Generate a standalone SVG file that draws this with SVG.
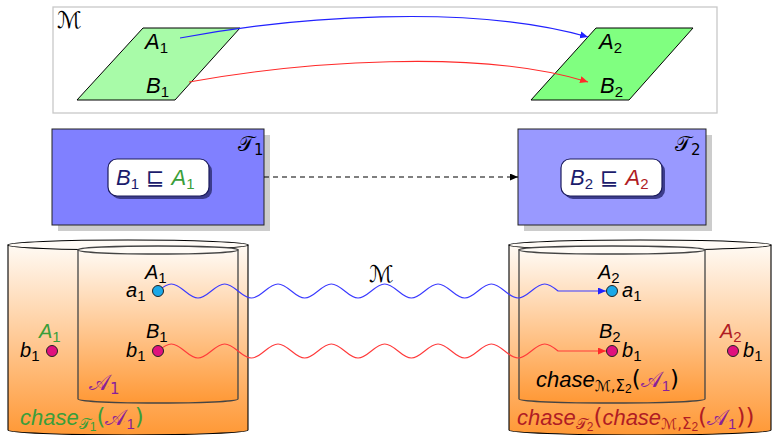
<svg xmlns="http://www.w3.org/2000/svg" width="773" height="435" viewBox="0 0 773 435">
<style>
text{font-family:"Liberation Sans","DejaVu Sans",sans-serif;font-style:italic;fill:#000}
.s{font-style:normal;font-size:15px}
.ss{font-style:normal;font-size:12px}
.sm{font-family:"DejaVu Sans","Noto Sans",sans-serif;font-style:normal;font-size:15px}
.m{font-family:"DejaVu Sans","Noto Sans",sans-serif;font-style:normal}
.lbl{font-size:20px}
.big{font-size:22px}
.ch{font-size:22px}
.green{fill:#3a9e3a}
.red{fill:#b01c24}
.navy{fill:#1c1c6c}
.purple{fill:#8a1f9a}
.cyl{stroke:#000;stroke-width:1.1}
.icyl{stroke:#444;stroke-width:1.3}
.top{fill:#fffbf6}
.dotc{fill:#1aa8e8;stroke:#222;stroke-width:1}
.dotm{fill:#e0107e;stroke:#222;stroke-width:1}
</style>
<defs>
<linearGradient id="og" x1="0" y1="0" x2="0" y2="1">
<stop offset="0" stop-color="#fffaf4"/>
<stop offset="1" stop-color="#ff9835"/>
</linearGradient>
<marker id="ab" markerUnits="userSpaceOnUse" markerWidth="9" markerHeight="8" refX="8" refY="3.5" orient="auto"><path d="M0,0 L8,3.5 L0,7 z" fill="#2222ff"/></marker>
<marker id="ar" markerUnits="userSpaceOnUse" markerWidth="9" markerHeight="8" refX="8" refY="3.5" orient="auto"><path d="M0,0 L8,3.5 L0,7 z" fill="#ff2a2a"/></marker>
<marker id="ak" markerUnits="userSpaceOnUse" markerWidth="9" markerHeight="8" refX="8" refY="3.5" orient="auto"><path d="M0,0 L8,3.5 L0,7 z" fill="#000"/></marker>
</defs>

<g id="mapping-box">
<rect x="53" y="7" width="664" height="106" fill="#fff" stroke="#c8c8c8" stroke-width="1.3"/>
<text x="57" y="28" class="m" style="font-size:23px">ℳ</text>
</g>

<g id="schema1">
<polygon points="143,28 240,28 175,100 77,100" fill="#a8fba8" stroke="#000" stroke-width="1"/>
<text x="145" y="49" class="big">A<tspan class="s" dy="4">1</tspan></text>
<text x="146" y="93" class="big">B<tspan class="s" dy="4">1</tspan></text>
</g>

<g id="schema2">
<polygon points="596,28 693,28 629,100 531,100" fill="#80ff80" stroke="#000" stroke-width="1"/>
<text x="599" y="49" class="big">A<tspan class="s" dy="4">2</tspan></text>
<text x="600" y="93" class="big">B<tspan class="s" dy="4">2</tspan></text>
</g>

<g id="T1">
<rect x="58" y="135" width="212" height="96" fill="#cccccc"/>
<rect x="52" y="129" width="212" height="96" fill="#8080ff" stroke="#222" stroke-width="1"/>
<text x="238" y="151" class="m" style="font-size:21px">𝒯<tspan class="s" dy="4">1</tspan></text>
<rect x="111" y="162" width="101" height="37" rx="9" fill="#3c3c8c"/>
<rect x="108" y="159" width="101" height="37" rx="9" fill="#fff" stroke="#1c1c5c" stroke-width="1.2"/>
<text x="116" y="185" class="big"><tspan class="navy">B</tspan><tspan class="s navy" dy="4">1</tspan><tspan class="m navy" dy="-4"> ⊑ </tspan><tspan class="green">A</tspan><tspan class="s green" dy="4">1</tspan></text>
</g>

<g id="T2">
<rect x="524" y="135" width="188" height="96" fill="#cccccc"/>
<rect x="518" y="129" width="188" height="96" fill="#9999ff" stroke="#222" stroke-width="1"/>
<text x="675" y="151" class="m" style="font-size:21px">𝒯<tspan class="s" dy="4">2</tspan></text>
<rect x="564" y="162" width="101" height="37" rx="9" fill="#3c3c8c"/>
<rect x="561" y="159" width="101" height="37" rx="9" fill="#fff" stroke="#1c1c5c" stroke-width="1.2"/>
<text x="570" y="185" class="big"><tspan class="navy">B</tspan><tspan class="s navy" dy="4">2</tspan><tspan class="m navy" dy="-4"> ⊑ </tspan><tspan class="red">A</tspan><tspan class="s red" dy="4">2</tspan></text>
</g>

<g id="chase-left">
<path class="cyl" d="M8,245 L8,430 A120,5 0 0 0 248,430 L248,245 Z" fill="url(#og)"/>
<ellipse class="cyl top" cx="128" cy="245" rx="120" ry="5"/>
<path class="icyl" d="M78,250 L78,399 A80,4 0 0 0 238,399 L238,250 Z" fill="url(#og)"/>
<ellipse class="icyl top" cx="158" cy="250" rx="80" ry="4"/>
<text x="89" y="390" class="m purple" style="font-size:22px">𝒜<tspan class="s" dy="4">1</tspan></text>
<text x="20" y="425" class="ch green">chase<tspan class="sm" dy="4">𝒯</tspan><tspan class="ss" dy="2">1</tspan><tspan class="m" style="font-size:23px" dy="-6">(</tspan><tspan class="m purple" style="font-size:22px">𝒜</tspan><tspan class="s purple" dy="4">1</tspan><tspan class="m" style="font-size:23px" dy="-4">)</tspan></text>
</g>

<g id="chase-right">
<path class="cyl" d="M509,245 L509,430 A131,5 0 0 0 771,430 L771,245 Z" fill="url(#og)"/>
<ellipse class="cyl top" cx="640" cy="245" rx="131" ry="5"/>
<path class="icyl" d="M519,250 L519,399 A93,4 0 0 0 705,399 L705,250 Z" fill="url(#og)"/>
<ellipse class="icyl top" cx="612" cy="250" rx="93" ry="4"/>
<text x="536" y="387" class="ch">chase<tspan class="sm" dy="4">ℳ,Σ</tspan><tspan class="ss" dy="2">2</tspan><tspan class="m" style="font-size:23px" dy="-6">(</tspan><tspan class="m purple" style="font-size:22px">𝒜</tspan><tspan class="s purple" dy="4">1</tspan><tspan class="m" style="font-size:23px" dy="-4">)</tspan></text>
<text x="517" y="425" class="ch red">chase<tspan class="sm" dy="4">𝒯</tspan><tspan class="ss" dy="2">2</tspan><tspan class="m" style="font-size:23px" dy="-6">(</tspan>chase<tspan class="sm" dy="4">ℳ,Σ</tspan><tspan class="ss" dy="2">2</tspan><tspan class="m" style="font-size:23px" dy="-6">(</tspan><tspan class="m purple" style="font-size:22px">𝒜</tspan><tspan class="s purple" dy="4">1</tspan><tspan class="m" style="font-size:23px" dy="-4">))</tspan></text>
</g>

<g id="connectors" fill="none" stroke-width="1.1">
<path d="M180,38 C290,17 470,3 588,37" stroke="#2222ff" marker-end="url(#ab)"/>
<path d="M189,82 C300,62 480,48 588,82" stroke="#ff2a2a" marker-end="url(#ar)"/>
<path d="M264,177 L518,177" stroke="#000" stroke-dasharray="5,4" marker-end="url(#ak)"/>
<path stroke="#3a3aff" marker-end="url(#ab)" d="M158,291 c11.32,-9.33 15.35,-9.33 26.67,0 c11.32,9.33 15.35,9.33 26.67,0 c11.32,-9.33 15.35,-9.33 26.67,0 c11.32,9.33 15.35,9.33 26.67,0 c11.32,-9.33 15.35,-9.33 26.67,0 c11.32,9.33 15.35,9.33 26.67,0 c11.32,-9.33 15.35,-9.33 26.67,0 c11.32,9.33 15.35,9.33 26.67,0 c11.32,-9.33 15.35,-9.33 26.67,0 c11.32,9.33 15.35,9.33 26.67,0 c11.32,-9.33 15.35,-9.33 26.67,0 c11.32,9.33 15.35,9.33 26.67,0 c11.32,-9.33 15.35,-9.33 26.67,0 c11.32,9.33 15.35,9.33 26.67,0 c11.32,-9.33 15.35,-9.33 26.67,0 L606,291"/>
<path stroke="#ff3a3a" marker-end="url(#ar)" d="M158,351 c11.32,-9.33 15.35,-9.33 26.67,0 c11.32,9.33 15.35,9.33 26.67,0 c11.32,-9.33 15.35,-9.33 26.67,0 c11.32,9.33 15.35,9.33 26.67,0 c11.32,-9.33 15.35,-9.33 26.67,0 c11.32,9.33 15.35,9.33 26.67,0 c11.32,-9.33 15.35,-9.33 26.67,0 c11.32,9.33 15.35,9.33 26.67,0 c11.32,-9.33 15.35,-9.33 26.67,0 c11.32,9.33 15.35,9.33 26.67,0 c11.32,-9.33 15.35,-9.33 26.67,0 c11.32,9.33 15.35,9.33 26.67,0 c11.32,-9.33 15.35,-9.33 26.67,0 c11.32,9.33 15.35,9.33 26.67,0 c11.32,-9.33 15.35,-9.33 26.67,0 L606,351"/>
<text x="369" y="282" class="m" style="font-size:23px">ℳ</text>
</g>

<g id="a1-left">
<circle class="dotc" cx="158" cy="291" r="5.5"/>
<text x="145" y="279" class="lbl">A<tspan class="s" dy="4">1</tspan></text>
<text x="126" y="297" class="lbl">a<tspan class="s" dy="4">1</tspan></text>
</g>
<g id="b1-inner-left">
<circle class="dotm" cx="158" cy="351" r="5.5"/>
<text x="146" y="338" class="lbl">B<tspan class="s" dy="4">1</tspan></text>
<text x="126" y="357" class="lbl">b<tspan class="s" dy="4">1</tspan></text>
</g>
<g id="b1-outer-left">
<circle class="dotm" cx="52" cy="351" r="5.5"/>
<text x="39" y="338" class="lbl green">A<tspan class="s" dy="4">1</tspan></text>
<text x="20" y="357" class="lbl">b<tspan class="s" dy="4">1</tspan></text>
</g>
<g id="a1-right">
<circle class="dotc" cx="612" cy="291" r="5.5"/>
<text x="598" y="279" class="lbl">A<tspan class="s" dy="4">2</tspan></text>
<text x="622" y="297" class="lbl">a<tspan class="s" dy="4">1</tspan></text>
</g>
<g id="b1-inner-right">
<circle class="dotm" cx="612" cy="351" r="5.5"/>
<text x="599" y="338" class="lbl">B<tspan class="s" dy="4">2</tspan></text>
<text x="622" y="357" class="lbl">b<tspan class="s" dy="4">1</tspan></text>
</g>
<g id="b1-outer-right">
<circle class="dotm" cx="733" cy="351" r="5.5"/>
<text x="720" y="338" class="lbl red">A<tspan class="s" dy="4">2</tspan></text>
<text x="743" y="357" class="lbl">b<tspan class="s" dy="4">1</tspan></text>
</g>
</svg>
